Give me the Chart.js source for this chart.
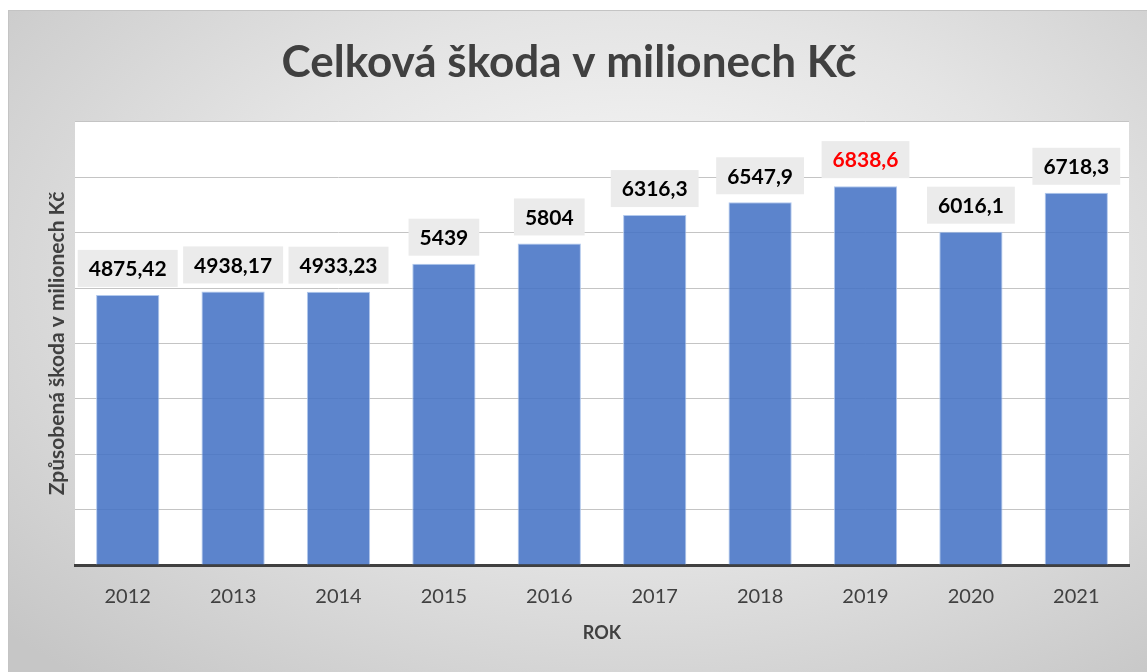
<!DOCTYPE html>
<html lang="cs">
<head>
<meta charset="utf-8">
<title>Celková škoda v milionech Kč</title>
<script src="https://cdn.jsdelivr.net/npm/chart.js@4.4.0/dist/chart.umd.min.js"></script>
<style>
    html, body { margin: 0; padding: 0; background: #fff; overflow: hidden; }
    #ramecek {
        position: absolute; left: 8px; top: 10px;
        width: 1138px; height: 661px;
        border-top: 1px solid #c4c4c4; border-left: 1px solid #c4c4c4;
        background: radial-gradient(ellipse 75% 80% at 55% 40%, #fbfbfb 0%, #e4e4e4 50%, #c6c6c6 100%);
    }
    canvas { display: block; }
</style>
</head>
<body>
<div id="ramecek"><canvas id="grafSkoda" width="1138" height="661"></canvas></div>
<script>
// --- DATA ---
const roky = ['2012', '2013', '2014', '2015', '2016', '2017', '2018', '2019', '2020', '2021'];
const skoda = [4875.42, 4938.17, 4933.23, 5439, 5804, 6316.3, 6547.9, 6838.6, 6016.1, 6718.3];
const zvyrazneno = ['2019'];          // popisek červeně
const osaYMax = 8000;
const osaYKrok = 1000;

const PISMO = "Lato, 'Open Sans', sans-serif";
const SEDA_TEXT = '#404040';

// bílé pozadí vykreslovací oblasti
const bilaPlocha = {
    id: 'bilaPlocha',
    beforeDraw(chart) {
        const { ctx, chartArea: a } = chart;
        ctx.save();
        ctx.fillStyle = '#ffffff';
        ctx.fillRect(a.left, a.top, a.right - a.left, a.bottom - a.top);
        ctx.restore();
    }
};

// popisky hodnot v šedých rámečcích nad sloupci
const popiskyHodnot = {
    id: 'popiskyHodnot',
    afterDatasetsDraw(chart) {
        const ctx = chart.ctx;
        const meta = chart.getDatasetMeta(0);
        ctx.save();
        ctx.font = 'bold 21px ' + PISMO;
        ctx.textAlign = 'center';
        ctx.textBaseline = 'middle';
        meta.data.forEach((bar, i) => {
            const text = String(skoda[i]).replace('.', ',');
            const sirka = ctx.measureText(text).width + 22;
            const vyska = 37;
            const spodek = bar.y - 8;
            ctx.fillStyle = '#ebebeb';
            ctx.fillRect(bar.x - sirka / 2, spodek - vyska, sirka, vyska);
            ctx.fillStyle = zvyrazneno.includes(roky[i]) ? '#ff0000' : '#000000';
            ctx.fillText(text, bar.x, spodek - vyska / 2 + 1);
        });
        ctx.restore();
    }
};

const ctxGraf = document.getElementById('grafSkoda').getContext('2d');

new Chart(ctxGraf, {
    type: 'bar',
    data: {
        labels: roky,
        datasets: [{
            label: 'Celková škoda',
            data: skoda,
            backgroundColor: 'rgba(68, 114, 196, 0.87)',
            borderColor: 'rgba(170, 195, 235, 0.9)',
            borderWidth: 1,
            categoryPercentage: 0.6,
            barPercentage: 1
        }]
    },
    options: {
        responsive: false,
        animation: false,
        layout: { padding: { top: 0, right: 18, bottom: 0, left: 0 } },
        plugins: {
            legend: { display: false },
            tooltip: { enabled: false },
            title: {
                display: true,
                text: 'Celková škoda v milionech Kč',
                color: SEDA_TEXT,
                font: { family: PISMO, size: 44, weight: 'bold', lineHeight: 1.2 },
                padding: { top: 25, bottom: 33 }
            }
        },
        scales: {
            x: {
                grid: { display: false, drawTicks: false },
                border: { display: true, color: '#404040', width: 3 },
                ticks: {
                    color: SEDA_TEXT,
                    font: { family: PISMO, size: 20 },
                    padding: 20
                },
                title: {
                    display: true,
                    text: 'ROK',
                    color: SEDA_TEXT,
                    font: { family: PISMO, size: 18, weight: 'bold', lineHeight: 1.2 },
                    padding: { top: 0, bottom: 28 }
                },
                afterFit(scale) { scale.height = 107; }
            },
            y: {
                min: 0,
                max: osaYMax,
                grid: { color: '#c4c4c4', lineWidth: 1, drawTicks: false },
                border: { display: false },
                ticks: { display: false, stepSize: osaYKrok },
                title: {
                    display: true,
                    text: 'Způsobená škoda v milionech Kč',
                    color: SEDA_TEXT,
                    font: { family: PISMO, size: 21, weight: 'bold', lineHeight: 1.2 },
                    padding: { top: 36, bottom: 0 }
                },
                afterFit(scale) { scale.width = 66; }
            }
        }
    },
    plugins: [bilaPlocha, popiskyHodnot]
});
</script>
</body>
</html>
